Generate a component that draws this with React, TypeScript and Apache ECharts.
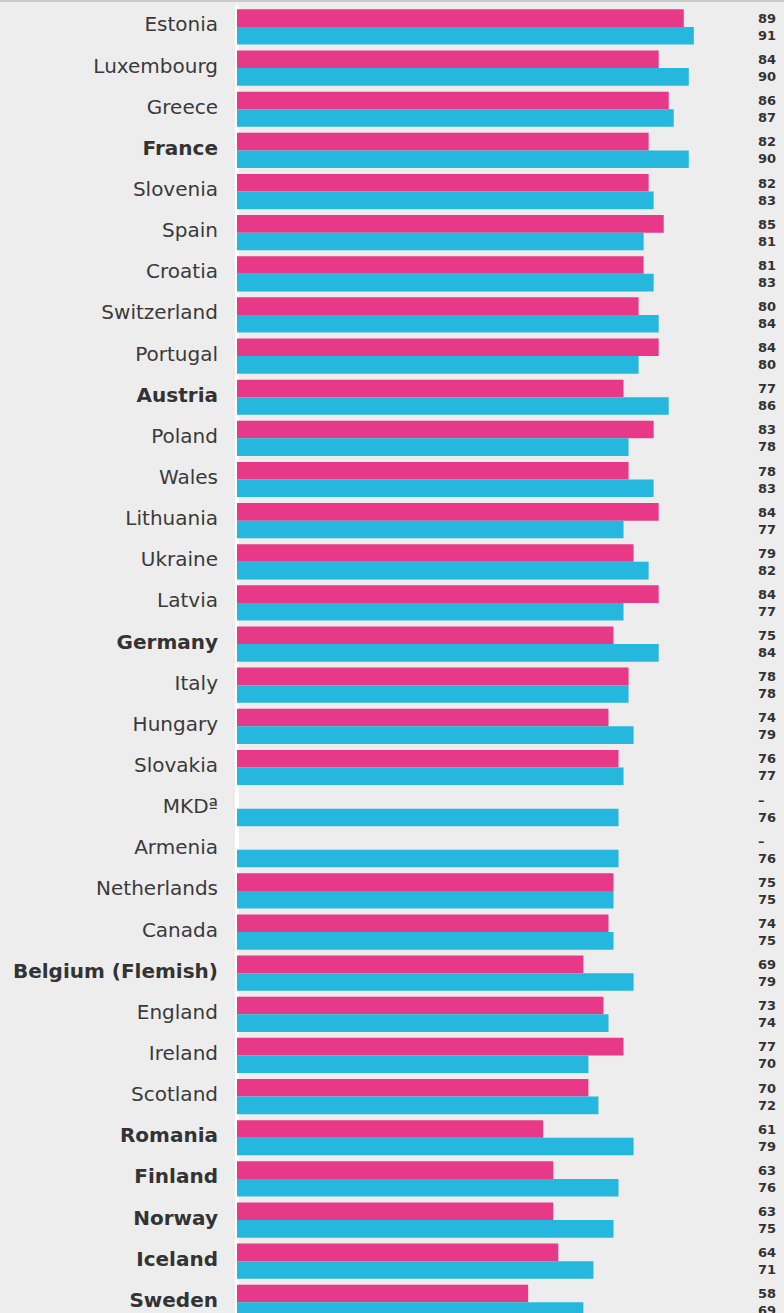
import React, { useEffect, useRef } from "react";
import * as echarts from "echarts";

const countries = [
  "Estonia", "Luxembourg", "Greece", "France", "Slovenia", "Spain", "Croatia",
  "Switzerland", "Portugal", "Austria", "Poland", "Wales", "Lithuania", "Ukraine",
  "Latvia", "Germany", "Italy", "Hungary", "Slovakia", "MKDª", "Armenia",
  "Netherlands", "Canada", "Belgium (Flemish)", "England", "Ireland", "Scotland",
  "Romania", "Finland", "Norway", "Iceland", "Sweden",
];

const pinkValues: (number | null)[] = [
  89, 84, 86, 82, 82, 85, 81, 80, 84, 77, 83, 78, 84, 79, 84, 75, 78, 74, 76,
  null, null, 75, 74, 69, 73, 77, 70, 61, 63, 63, 64, 58,
];

const blueValues: number[] = [
  91, 90, 87, 90, 83, 81, 83, 84, 80, 86, 78, 83, 77, 82, 77, 84, 78, 79, 77,
  76, 76, 75, 75, 79, 74, 70, 72, 79, 76, 75, 71, 69,
];

const boldCountries = [
  "France", "Austria", "Germany", "Belgium (Flemish)", "Romania", "Finland",
  "Norway", "Iceland", "Sweden",
];

const PINK = "#e73987";
const BLUE = "#25b7dd";
const BG = "#ededed";

export default function App() {
  const ref = useRef<HTMLDivElement>(null);
  useEffect(() => {
    document.body.style.margin = "0";
    document.body.style.background = BG;
    if (!ref.current) return;
    const chart = echarts.init(ref.current, undefined, { renderer: "svg" });
    const rowPitch = 41.14;
    const top = 6.4;
    const height = rowPitch * countries.length;
    chart.setOption({
      animation: false,
      backgroundColor: BG,
      graphic: [
        {
          type: "rect",
          shape: { x: 0, y: 0, width: 784, height: 2 },
          style: { fill: "#cbcbcb" },
          z: 100,
        },
      ],
      grid: { left: 237, top: top, width: 502, height: height },
      xAxis: {
        type: "value",
        min: 0,
        max: 100,
        show: false,
      },
      yAxis: [
        {
          type: "category",
          data: countries,
          inverse: true,
          axisLine: { show: true, lineStyle: { color: "#ffffff", width: 4 } },
          axisTick: { show: false },
          axisLabel: {
            margin: 19,
            formatter: (v: string) =>
              boldCountries.includes(v) ? `{b|${v}}` : `{n|${v}}`,
            rich: {
              n: {
                fontFamily: "DejaVu Sans",
                fontSize: 20,
                color: "#3a3a3a",
                padding: [0, 0, 5, 0],
              },
              b: {
                fontFamily: "DejaVu Sans",
                fontSize: 20,
                fontWeight: "bold",
                color: "#333333",
                padding: [0, 0, 5, 0],
              },
            },
          },
        },
        {
          type: "category",
          data: countries,
          inverse: true,
          position: "right",
          axisLine: { show: false },
          axisTick: { show: false },
          axisLabel: {
            margin: 19,
            align: "left",
            fontFamily: "DejaVu Sans",
            fontSize: 13,
            fontWeight: "bold",
            lineHeight: 17,
            color: "#333333",
            formatter: (_v: string, i: number) => {
              const p = pinkValues[i];
              return `${p === null ? "–" : p}\n${blueValues[i]}`;
            },
          },
        },
      ],
      series: [
        {
          type: "bar",
          data: pinkValues,
          barWidth: 17.6,
          barGap: "0%",
          itemStyle: { color: PINK },
        },
        {
          type: "bar",
          data: blueValues,
          barWidth: 17.6,
          barGap: "0%",
          itemStyle: { color: BLUE },
        },
      ],
    });
    return () => chart.dispose();
  }, []);
  return (
    <div
      ref={ref}
      style={{ position: "fixed", left: 0, top: 0, width: 784, height: 1330 }}
    />
  );
}
